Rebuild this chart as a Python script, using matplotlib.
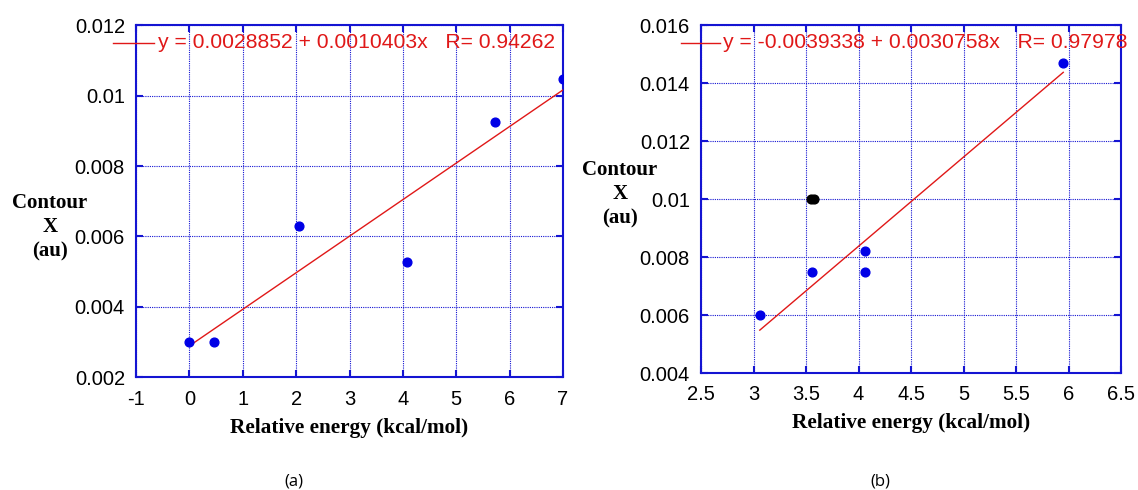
import matplotlib
matplotlib.use("Agg")
import matplotlib.pyplot as plt
import numpy as np
from matplotlib.ticker import FixedLocator, FuncFormatter

plt.rcParams['axes.unicode_minus'] = False

# Panel (a)
a_x = [0.0, 0.47, 2.05, 4.08, 5.73, 7.0]
a_y = [0.0030, 0.0030, 0.0063, 0.00528, 0.00925, 0.01047]
a_intercept, a_slope, a_R = 0.0028852, 0.0010403, 0.94262
a_fit_x = [0.05, 7.0]
a_xticks = [-1, 0, 1, 2, 3, 4, 5, 6, 7]
a_yticks = [0.002, 0.004, 0.006, 0.008, 0.010, 0.012]

# Panel (b)
b_x = [3.06, 3.56, 4.06, 4.06, 5.95]
b_y = [0.0060, 0.0075, 0.0082, 0.0075, 0.0147]
b_black_x = [3.552, 3.576]
b_black_y = [0.0100, 0.0100]
b_intercept, b_slope, b_R = -0.0039338, 0.0030758, 0.97978
b_fit_x = [3.06, 5.95]
b_xticks = [2.5, 3, 3.5, 4, 4.5, 5, 5.5, 6, 6.5]
b_yticks = [0.004, 0.006, 0.008, 0.010, 0.012, 0.014, 0.016]

ylabel_lines = ['Contour', 'X', '(au)']
xlabel_text = 'Relative energy (kcal/mol)'
panel_titles = ['(a)', '(b)']

BLUE = '#1414d2'
RED = '#e01818'
DOT = '#0000e6'

fig = plt.figure(figsize=(11.38, 4.90), dpi=100)
W, H = 1138, 490

def px_axes(l, t, r, b):
    return fig.add_axes([l / W, 1 - b / H, (r - l) / W, (b - t) / H])

def fmt(v, pos):
    return '%g' % round(v, 6)

def style(ax, xt, yt, xpad):
    ax.set_xlim(xt[0], xt[-1])
    ax.set_ylim(yt[0], yt[-1])
    ax.xaxis.set_major_locator(FixedLocator(xt))
    ax.yaxis.set_major_locator(FixedLocator(yt))
    ax.xaxis.set_major_formatter(FuncFormatter(fmt))
    ax.yaxis.set_major_formatter(FuncFormatter(fmt))
    for sp in ax.spines.values():
        sp.set_color(BLUE)
        sp.set_linewidth(1.5)
    ax.tick_params(direction='in', length=5, width=1.5, color=BLUE,
                   top=True, right=True, labelsize=14.5)
    ax.tick_params(axis='x', pad=xpad)
    ax.tick_params(axis='y', pad=8)
    for lab in ax.get_xticklabels() + ax.get_yticklabels():
        lab.set_family('Liberation Sans')
    ax.grid(True, color=BLUE, linestyle=(0, (1, 1)), linewidth=0.8)
    ax.set_axisbelow(True)

def panel(ax, xs, ys, icpt, slope, R, fitx, xt, yt, xpad,
          leg_x0, leg_x1, leg_y, txt_x, xlab_y):
    style(ax, xt, yt, xpad)
    fx = np.array(fitx)
    ax.plot(fx, icpt + slope * fx, color=RED, linewidth=1.0, zorder=3)
    ax.plot(xs, ys, 'o', color=DOT, markersize=6.3, zorder=4)
    pos = ax.get_position()
    fig.text((pos.x0 + pos.x1) / 2, 1 - xlab_y / H, xlabel_text,
             family='Liberation Serif', fontweight='bold', fontsize=15.3,
             ha='center', va='center')
    sign = '-' if icpt < 0 else ''
    label = 'y = %s%.7f + %.7fx   R= %.5f' % (sign, abs(icpt), slope, R)
    fig.add_artist(plt.Line2D([leg_x0 / W, leg_x1 / W], [1 - leg_y / H, 1 - leg_y / H],
                              color=RED, linewidth=1.0))
    fig.text(txt_x / W, 1 - leg_y / H, label, color=RED, fontsize=15.2,
             family='Liberation Sans', va='center', ha='left')

axa = px_axes(136, 25.5, 563, 377)
panel(axa, a_x, a_y, a_intercept, a_slope, a_R, a_fit_x, a_xticks, a_yticks, 9.5,
      113, 154, 43, 158, 428)

axb = px_axes(701, 25, 1121, 373)
panel(axb, b_x, b_y, b_intercept, b_slope, b_R, b_fit_x, b_xticks, b_yticks, 8.5,
      681, 720, 43, 723, 423)
axb.plot(b_black_x, b_black_y, 'o', color='black', markersize=6.3, zorder=5)

for cx, cy in [(50, 227), (620, 194)]:
    for i, line in enumerate(ylabel_lines):
        fig.text(cx / W, 1 - (cy + (i - 1) * 24.5) / H, line,
                 family='Liberation Serif', fontweight='bold', fontsize=15,
                 ha='center', va='center')

fig.text(294 / W, 1 - 481 / H, panel_titles[0], family='Open Sans', fontsize=12,
         ha='center', va='center')
fig.text(880 / W, 1 - 481 / H, panel_titles[1], family='Open Sans', fontsize=12,
         ha='center', va='center')

fig.savefig('out.png', dpi=100)
